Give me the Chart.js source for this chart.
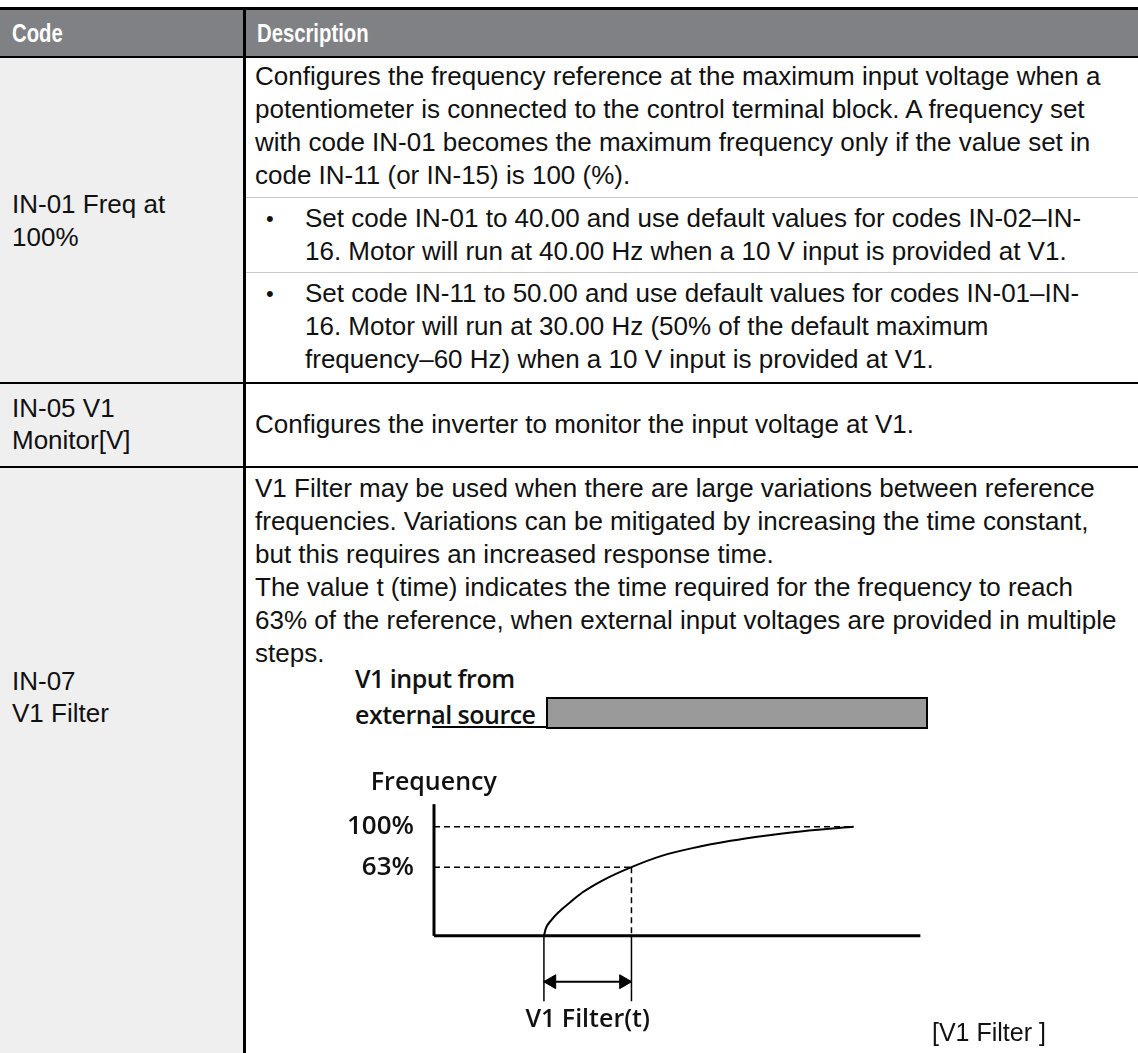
<!DOCTYPE html>
<html>
<head>
<meta charset="utf-8">
<script src="https://cdn.jsdelivr.net/npm/chart.js@4.4.0/dist/chart.umd.min.js"></script>
<style>
  body { margin: 0; background: #fff; }
  #page { position: relative; width: 1138px; height: 1053px; overflow: hidden; font-family: "Liberation Sans", Arial, sans-serif; color: #111; }
  .abs { position: absolute; }
  .rule { position: absolute; background: #000; }
  .thin { position: absolute; background: #c8c8c8; height: 1px; left: 246px; right: 0; }
  .txt { position: absolute; white-space: nowrap; font-size: 26px; line-height: 33px; }
  .head { position: absolute; color: #fff; font-family: "Liberation Sans Narrow", "Liberation Sans", sans-serif; font-weight: bold; font-size: 26px; line-height: 46px; top: 10px; transform: scaleX(0.78); transform-origin: left center; }
  .diag { position: absolute; white-space: nowrap; font-family: "Open Sans", sans-serif; font-weight: 600; font-size: 25px; line-height: 36px; color: #111; letter-spacing: -0.5px; }
  .bullet { position: absolute; left: 266px; font-size: 22px; }
</style>
</head>
<body>
<div id="page">
  <!-- header band -->
  <div class="abs" style="left:0;top:10px;width:1138px;height:46px;background:#808184"></div>
  <div class="head" style="left:12px">Code</div>
  <div class="head" style="left:257px">Description</div>

  <!-- code column -->
  <div class="abs" style="left:0;top:58px;width:243px;height:995px;background:#efefef"></div>

  <!-- borders -->
  <div class="rule" style="left:0;top:7px;width:1138px;height:3px"></div>
  <div class="rule" style="left:0;top:56px;width:1138px;height:2px"></div>
  <div class="rule" style="left:243px;top:7px;width:3px;height:1046px"></div>
  <div class="rule" style="left:0;top:382px;width:1138px;height:2px"></div>
  <div class="rule" style="left:0;top:466px;width:1138px;height:2px"></div>

  <!-- row 1 -->
  <div class="txt" style="left:12px;top:188px">IN-01 Freq at<br>100%</div>
  <div class="txt" style="left:255px;top:60px">Configures the frequency reference at the maximum input voltage when a<br>potentiometer is connected to the control terminal block. A frequency set<br>with code IN-01 becomes the maximum frequency only if the value set in<br>code IN-11 (or IN-15) is 100 (%).</div>
  <div class="thin" style="top:197px"></div>
  <div class="txt bullet" style="top:202px">•</div>
  <div class="txt" style="left:305px;top:202px">Set code IN-01 to 40.00 and use default values for codes IN-02–IN-<br>16. Motor will run at 40.00 Hz when a 10 V input is provided at V1.</div>
  <div class="thin" style="top:272px"></div>
  <div class="txt bullet" style="top:277px">•</div>
  <div class="txt" style="left:305px;top:277px">Set code IN-11 to 50.00 and use default values for codes IN-01–IN-<br>16. Motor will run at 30.00 Hz (50% of the default maximum<br>frequency–60 Hz) when a 10 V input is provided at V1.</div>

  <!-- row 2 -->
  <div class="txt" style="left:12px;top:392px;line-height:32px">IN-05 V1<br>Monitor[V]</div>
  <div class="txt" style="left:255px;top:408px">Configures the inverter to monitor the input voltage at V1.</div>

  <!-- row 3 -->
  <div class="txt" style="left:12px;top:665px;line-height:32px">IN-07<br>V1 Filter</div>
  <div class="txt" style="left:255px;top:472px">V1 Filter may be used when there are large variations between reference<br>frequencies. Variations can be mitigated by increasing the time constant,<br>but this requires an increased response time.<br>The value t (time) indicates the time required for the frequency to reach<br>63% of the reference, when external input voltages are provided in multiple<br>steps.</div>

  <!-- input step from external source -->
  <div class="diag" style="left:355px;top:660px">V1 input from<br>external source</div>
  <div class="rule" style="left:432px;top:726px;width:116px;height:2px"></div>
  <div class="abs" style="left:546px;top:697px;width:378px;height:28px;background:#9a9a9a;border:2.5px solid #000"></div>

  <canvas id="filterChart" width="620" height="303" style="position:absolute;left:340px;top:750px"></canvas>

  <div class="txt" style="left:932px;top:1016px;font-size:25px">[V1 Filter ]</div>
</div>

<script>
// Frequency response to a V1 step (time in arbitrary units, level in % of reference)
const curveTime  = [22.6, 23.0, 24.0, 25.8, 28.3, 30.5, 34.7, 40.6, 46.8, 52.9, 61.0, 68.9, 77.1, 86.3];
const curveLevel = [0, 6.9, 13.8, 22.4, 31.9, 39.7, 50.9, 63, 73.3, 80.2, 87.1, 92.2, 96.6, 100];

// y axis labels
const levelTicks = [63, 100];
const levelTickLabels = ['63%', '100%'];

// key moments on the time axis
const stepTime = 22.6;    // input applied
const filterTime = 40.6;  // 63% reached
const settleTime = 86.3;  // 100% reached
const axisEnd = 100;
const axisTop = 120.7;
const markerBottom = -60;
const arrowLevel = -42;
const labelLevel = -77;

const pts = (xs, ys) => xs.map((x, i) => ({ x: x, y: ys[i] }));

function segment(xs, ys, width, dash) {
    return {
        data: pts(xs, ys),
        borderColor: '#000',
        borderWidth: width,
        borderDash: dash || [],
        pointRadius: 0,
        clip: false
    };
}

// draws the free labels at data positions
const diagramLabels = {
    id: 'diagramLabels',
    afterDraw(chart) {
        const { ctx, scales: { x, y } } = chart;
        ctx.save();
        ctx.fillStyle = '#111';
        ctx.font = '600 25px "Open Sans"';
        ctx.textBaseline = 'middle';
        ctx.textAlign = 'left';
        ctx.fillText('Frequency', x.getPixelForValue(-13), y.getPixelForValue(140.5));
        ctx.textAlign = 'center';
        ctx.fillText('V1 Filter(t)', x.getPixelForValue((stepTime + filterTime) / 2), y.getPixelForValue(labelLevel));
        ctx.restore();
    }
};

const ctx = document.getElementById('filterChart').getContext('2d');
new Chart(ctx, {
    type: 'line',
    data: {
        datasets: [
            // response curve
            Object.assign(segment(curveTime, curveLevel, 2), { cubicInterpolationMode: 'monotone' }),
            // dashed guides
            segment([0, settleTime], [100, 100], 1.5, [6, 4]),
            segment([0, filterTime], [63, 63], 1.5, [6, 4]),
            segment([filterTime, filterTime], [63, 0], 1.5, [6, 4]),
            // axes
            segment([0, 0], [0, axisTop], 3),
            segment([0, axisEnd], [0, 0], 3),
            // time markers
            segment([stepTime, stepTime], [0, markerBottom], 1.5),
            segment([filterTime, filterTime], [0, markerBottom], 1.5),
            // double arrow
            segment([stepTime, filterTime], [arrowLevel, arrowLevel], 2),
            {
                data: pts([stepTime + 1.6, filterTime - 1.6], [arrowLevel, arrowLevel]),
                showLine: false,
                pointStyle: 'triangle',
                pointRotation: [-90, 90],
                pointRadius: 8,
                pointBackgroundColor: '#000',
                pointBorderColor: '#000',
                pointBorderWidth: 1,
                clip: false
            }
        ]
    },
    options: {
        responsive: false,
        animation: false,
        events: [],
        layout: { padding: 0 },
        plugins: { legend: { display: false }, tooltip: { enabled: false } },
        scales: {
            x: { type: 'linear', display: false, min: 0, max: 106.3 },
            y: {
                type: 'linear',
                min: -99.1,
                max: 162.1,
                grid: { display: false },
                border: { display: false },
                afterBuildTicks: (s) => { s.ticks = levelTicks.map(v => ({ value: v })); },
                afterFit: (s) => { s.width = 94; s.paddingTop = 0; s.paddingBottom = 0; },
                ticks: {
                    padding: 12,
                    color: '#111',
                    font: { family: '"Open Sans"', size: 26, weight: '600' },
                    callback: (v) => levelTickLabels[levelTicks.indexOf(v)]
                }
            }
        }
    },
    plugins: [diagramLabels]
});
</script>
</body>
</html>
